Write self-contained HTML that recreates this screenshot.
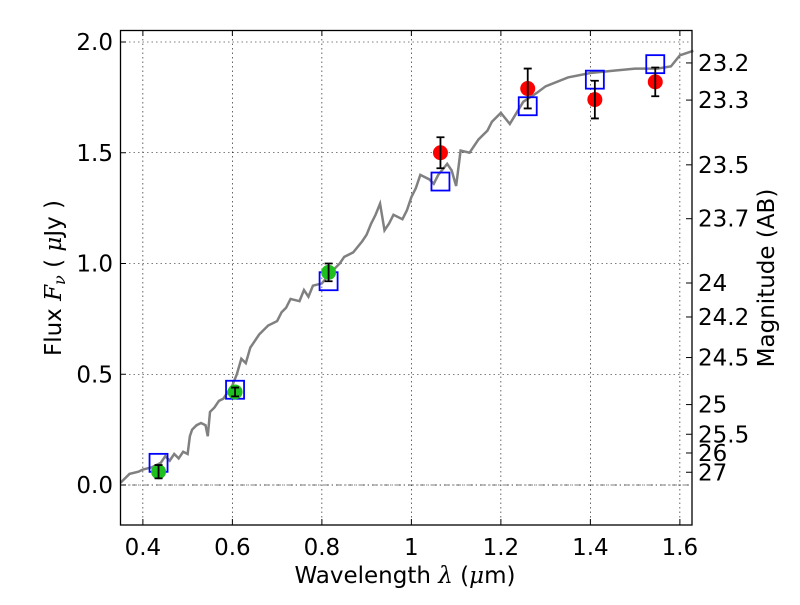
<!DOCTYPE html>
<html><head><meta charset="utf-8"><style>body{margin:0;background:#fff}svg{font-family:"DejaVu Sans","Liberation Sans",sans-serif}</style></head>
<body>
<svg id="chart" width="800" height="600" viewBox="0 0 800 600">
<rect x="0" y="0" width="800" height="600" fill="#fff"/>
<g id="grid"></g>
<g id="marks"></g>
<rect x="120.5" y="30.5" width="571.5" height="494.5" fill="none" stroke="#000" stroke-width="1.3"/>
<g id="axes" font-size="23"></g>
<text x="405" y="583" font-size="23" text-anchor="middle">Wavelength  <tspan font-family="DejaVu Serif" font-style="italic">λ</tspan> (<tspan font-family="DejaVu Serif" font-style="italic">μ</tspan>m)</text>
<text transform="translate(61,278) rotate(-90)" font-size="23" text-anchor="middle">Flux  <tspan font-family="DejaVu Serif" font-style="italic">F</tspan><tspan font-family="DejaVu Serif" font-style="italic" font-size="16" dy="4">ν</tspan><tspan dy="-4">  ( </tspan><tspan font-family="DejaVu Serif" font-style="italic">μ</tspan>Jy )</text>
<text transform="translate(774,278) rotate(-90)" font-size="23" text-anchor="middle">Magnitude (AB)</text>
</svg>
<script>
const xTicks=[0.4,0.6,0.8,1.0,1.2,1.4,1.6];
const xTickLabels=["0.4","0.6","0.8","1","1.2","1.4","1.6"];
const yTicks=[0,0.5,1,1.5,2];
const yTickLabels=["0.0","0.5","1.0","1.5","2.0"];
const magTicks=[23.2,23.3,23.5,23.7,24,24.2,24.5,25,25.5,26,27];
const magTickLabels=["23.2","23.3","23.5","23.7","24","24.2","24.5","25","25.5","26","27"];
const specWave=[0.35,0.36,0.37,0.39,0.40,0.42,0.43,0.44,0.45,0.46,0.47,0.48,0.49,0.50,0.505,0.51,0.52,0.53,0.54,0.545,0.55,0.56,0.57,0.58,0.59,0.60,0.61,0.62,0.63,0.64,0.65,0.66,0.68,0.70,0.71,0.72,0.73,0.75,0.76,0.77,0.78,0.80,0.82,0.84,0.85,0.87,0.89,0.90,0.91,0.92,0.93,0.94,0.95,0.96,0.98,0.99,1.00,1.01,1.02,1.04,1.05,1.06,1.08,1.09,1.10,1.11,1.13,1.15,1.17,1.18,1.20,1.22,1.25,1.28,1.30,1.35,1.40,1.45,1.50,1.55,1.58,1.60,1.63];
const specFlux=[0.01,0.03,0.05,0.06,0.07,0.08,0.09,0.10,0.13,0.11,0.14,0.12,0.15,0.14,0.22,0.25,0.27,0.28,0.27,0.22,0.33,0.35,0.38,0.39,0.42,0.45,0.50,0.57,0.55,0.62,0.65,0.68,0.72,0.74,0.78,0.80,0.84,0.83,0.88,0.85,0.90,0.91,0.96,1.00,1.03,1.05,1.10,1.13,1.18,1.22,1.27,1.15,1.18,1.22,1.20,1.24,1.30,1.34,1.40,1.38,1.36,1.40,1.45,1.42,1.35,1.51,1.50,1.56,1.60,1.64,1.68,1.63,1.73,1.77,1.80,1.84,1.86,1.87,1.88,1.88,1.89,1.94,1.96];
const photWave=[0.435,0.606,0.815,1.065,1.26,1.41,1.545];
const photFlux=[0.06,0.42,0.96,1.50,1.79,1.74,1.82];
const photErr=[0.03,0.02,0.04,0.07,0.09,0.085,0.065];
const modelFlux=[0.10,0.43,0.92,1.37,1.71,1.83,1.90];
const NS="http://www.w3.org/2000/svg";
const X=v=>120.5+(v-0.35)*447.5, Y=v=>485-v*221.5;
function mk(t,a,p){const e=document.createElementNS(NS,t);for(const k in a)e.setAttribute(k,a[k]);p.appendChild(e);return e;}
const grid=document.getElementById('grid'),marks=document.getElementById('marks'),axes=document.getElementById('axes');
xTicks.forEach((v,i)=>{
 const g=mk('line',{x1:X(v),x2:X(v),y1:30,y2:525,stroke:'#000','stroke-width':0.6,'stroke-dasharray':'1.5,3'},grid);
 
 mk('line',{x1:X(v),x2:X(v),y1:525,y2:519,stroke:'#000'},axes);mk('line',{x1:X(v),x2:X(v),y1:30,y2:36,stroke:'#000'},axes);
 const t=mk('text',{x:X(v),y:555,'text-anchor':'middle'},axes);t.textContent=xTickLabels[i];
 
});
yTicks.forEach((v,i)=>{
 const g=mk('line',{x1:120,x2:692,y1:Y(v),y2:Y(v),stroke:'#000','stroke-width':0.6,'stroke-dasharray':'1.5,3'},grid);
 
 mk('line',{x1:120,x2:126,y1:Y(v),y2:Y(v),stroke:'#000'},axes);
 const t=mk('text',{x:113,y:Y(v)+8,'text-anchor':'end'},axes);t.textContent=yTickLabels[i];
 
});
magTicks.forEach((m,i)=>{
 const y=Y(Math.pow(10,(23.9-m)/2.5));
 mk('line',{x1:692,x2:686,y1:y,y2:y,stroke:'#000'},axes);
 const t=mk('text',{x:698,y:y+8},axes);t.textContent=magTickLabels[i];
 
});
const zl=mk('line',{x1:120,x2:692,y1:Y(0),y2:Y(0),stroke:'#000','stroke-width':0.6,'stroke-dasharray':'5,3,1,3'},grid);

const sp=mk('polyline',{points:specWave.map((w,i)=>X(w)+','+Y(specFlux[i])).join(' '),fill:'none',stroke:'#808080','stroke-width':2.5},marks);

photWave.forEach((w,i)=>{
 const sq=mk('rect',{x:X(w)-9,y:Y(modelFlux[i])-9,width:18,height:18,fill:'none',stroke:'#0000ff','stroke-width':1.8},marks);
 
 const c=mk('circle',{cx:X(w),cy:Y(photFlux[i]),r:7.5,fill:w<1?'#1fbf1f':'#ff0000',stroke:'none'},marks);
 
 const y1=Y(photFlux[i]+photErr[i]),y2=Y(photFlux[i]-photErr[i]),x=X(w);
 const eb=mk('path',{d:`M${x},${y1}V${y2}M${x-4},${y1}H${x+4}M${x-4},${y2}H${x+4}`,stroke:'#000','stroke-width':1.8,fill:'none'},marks);
 
});
</script>
</body></html>
